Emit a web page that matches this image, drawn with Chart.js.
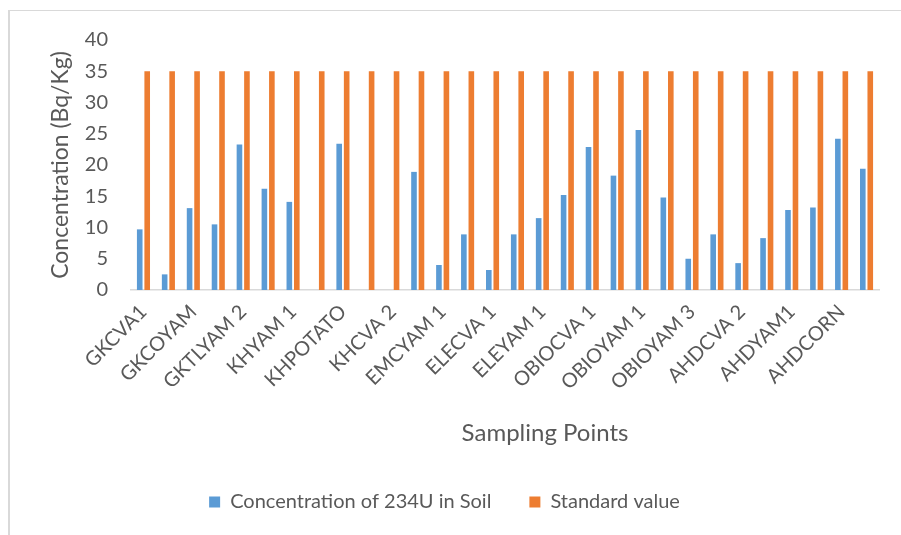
<!DOCTYPE html>
<html>
<head>
<meta charset="utf-8">
<script src="https://cdn.jsdelivr.net/npm/chart.js@4.4.1/dist/chart.umd.min.js"></script>
<style>
  html, body { margin: 0; padding: 0; background: #ffffff; }
  #frame {
    position: absolute; left: 8px; top: 10px;
    width: 893px; height: 525px;
    border-top: 1px solid #d9d9d9; border-left: 2px solid #d9d9d9;
    box-sizing: border-box;
  }
  canvas { display: block; }
</style>
</head>
<body>
<div id="frame"><canvas id="chart" width="891" height="524"></canvas></div>
<script>
// Sampling points (every other name is printed on the axis)
const samplingPoints = [
  "GKCVA1", "GKCVA2", "GKCOYAM", "GKTLYAM 1", "GKTLYAM 2", "GKTLCVA",
  "KHYAM 1", "KHYAM 2", "KHPOTATO", "KHCVA 1", "KHCVA 2", "EMCCVA 1",
  "EMCYAM 1", "EMCYAM 2", "ELECVA 1", "ELECVA 2", "ELEYAM 1", "ELEYAM 2",
  "OBIOCVA 1", "OBIOCVA 2", "OBIOYAM 1", "OBIOYAM 2", "OBIOYAM 3", "AHDCVA 1",
  "AHDCVA 2", "AHDCOYAM", "AHDYAM1", "AHDYAM2", "AHDCORN", "AHDPOTATO"
];

// 234U activity concentration in soil, Bq/Kg
const u234Soil = [
  9.7, 2.5, 13.1, 10.5, 23.3, 16.2, 14.1, 0, 23.4, 0,
  0, 18.9, 4.0, 8.9, 3.2, 8.9, 11.5, 15.2, 22.9, 18.3,
  25.6, 14.8, 5.0, 8.9, 4.3, 8.3, 12.8, 13.2, 24.2, 19.4
];

// Reference limit, Bq/Kg
const standardValue = [
  35, 35, 35, 35, 35, 35, 35, 35, 35, 35,
  35, 35, 35, 35, 35, 35, 35, 35, 35, 35,
  35, 35, 35, 35, 35, 35, 35, 35, 35, 35
];

const yTicks = [0, 5, 10, 15, 20, 25, 30, 35, 40];
const xAxisTitle = "Sampling Points";

const FONT = "Lato, 'Open Sans', sans-serif";
const TEXT = "#595959";

// Horizontal axis title, set a little right of the plot centre
const xTitlePlugin = {
  id: "xTitle",
  afterDraw(chart) {
    const { ctx, chartArea, scales } = chart;
    const x = (chartArea.left + chartArea.right) / 2 + 40;
    const y = scales.x.bottom - 21;
    ctx.save();
    ctx.font = "24px " + FONT;
    ctx.fillStyle = TEXT;
    ctx.textAlign = "center";
    ctx.textBaseline = "middle";
    ctx.fillText(xAxisTitle, x, y);
    ctx.restore();
  }
};

new Chart(document.getElementById("chart"), {
  type: "bar",
  data: {
    labels: samplingPoints,
    datasets: [
      {
        label: "Concentration of 234U in Soil",
        data: u234Soil,
        backgroundColor: "#5B9BD5",
        borderWidth: 0,
        categoryPercentage: 0.6,
        barPercentage: 0.75
      },
      {
        label: "Standard value",
        data: standardValue,
        backgroundColor: "#ED7D31",
        borderWidth: 0,
        categoryPercentage: 0.6,
        barPercentage: 0.75
      }
    ]
  },
  options: {
    responsive: false,
    animation: false,
    layout: { padding: { top: 0, right: 22, bottom: 13, left: 0 } },
    plugins: {
      tooltip: { enabled: false },
      legend: {
        position: "bottom",
        labels: {
          color: TEXT,
          font: { family: FONT, size: 20 },
          boxWidth: 11,
          boxHeight: 11,
          padding: 38
        }
      }
    },
    scales: {
      x: {
        grid: { display: false, drawTicks: false },
        border: { display: true, color: "#d9d9d9", width: 1.5 },
        ticks: {
          color: TEXT,
          font: { family: FONT, size: 20 },
          autoSkip: false,
          maxRotation: 45,
          minRotation: 45,
          padding: 10,
          callback: (value, index) => (index % 2 === 0 ? samplingPoints[index] : "")
        },
        afterFit: (scale) => { scale.height = 164; }
      },
      y: {
        min: 0,
        max: 40,
        afterBuildTicks: (scale) => { scale.ticks = yTicks.map(v => ({ value: v })); },
        grid: { display: false, drawTicks: false },
        border: { display: false },
        ticks: {
          color: TEXT,
          font: { family: FONT, size: 20 },
          padding: 23
        },
        title: {
          display: true,
          text: "Concentration (Bq/Kg)",
          color: TEXT,
          font: { family: FONT, size: 23 },
          padding: { top: 37, bottom: 0 }
        },
        afterFit: (scale) => {
          scale.width = 121;
          scale.paddingTop = 29;
          scale.paddingBottom = 12;
        }
      }
    }
  },
  plugins: [xTitlePlugin]
});
</script>
</body>
</html>
